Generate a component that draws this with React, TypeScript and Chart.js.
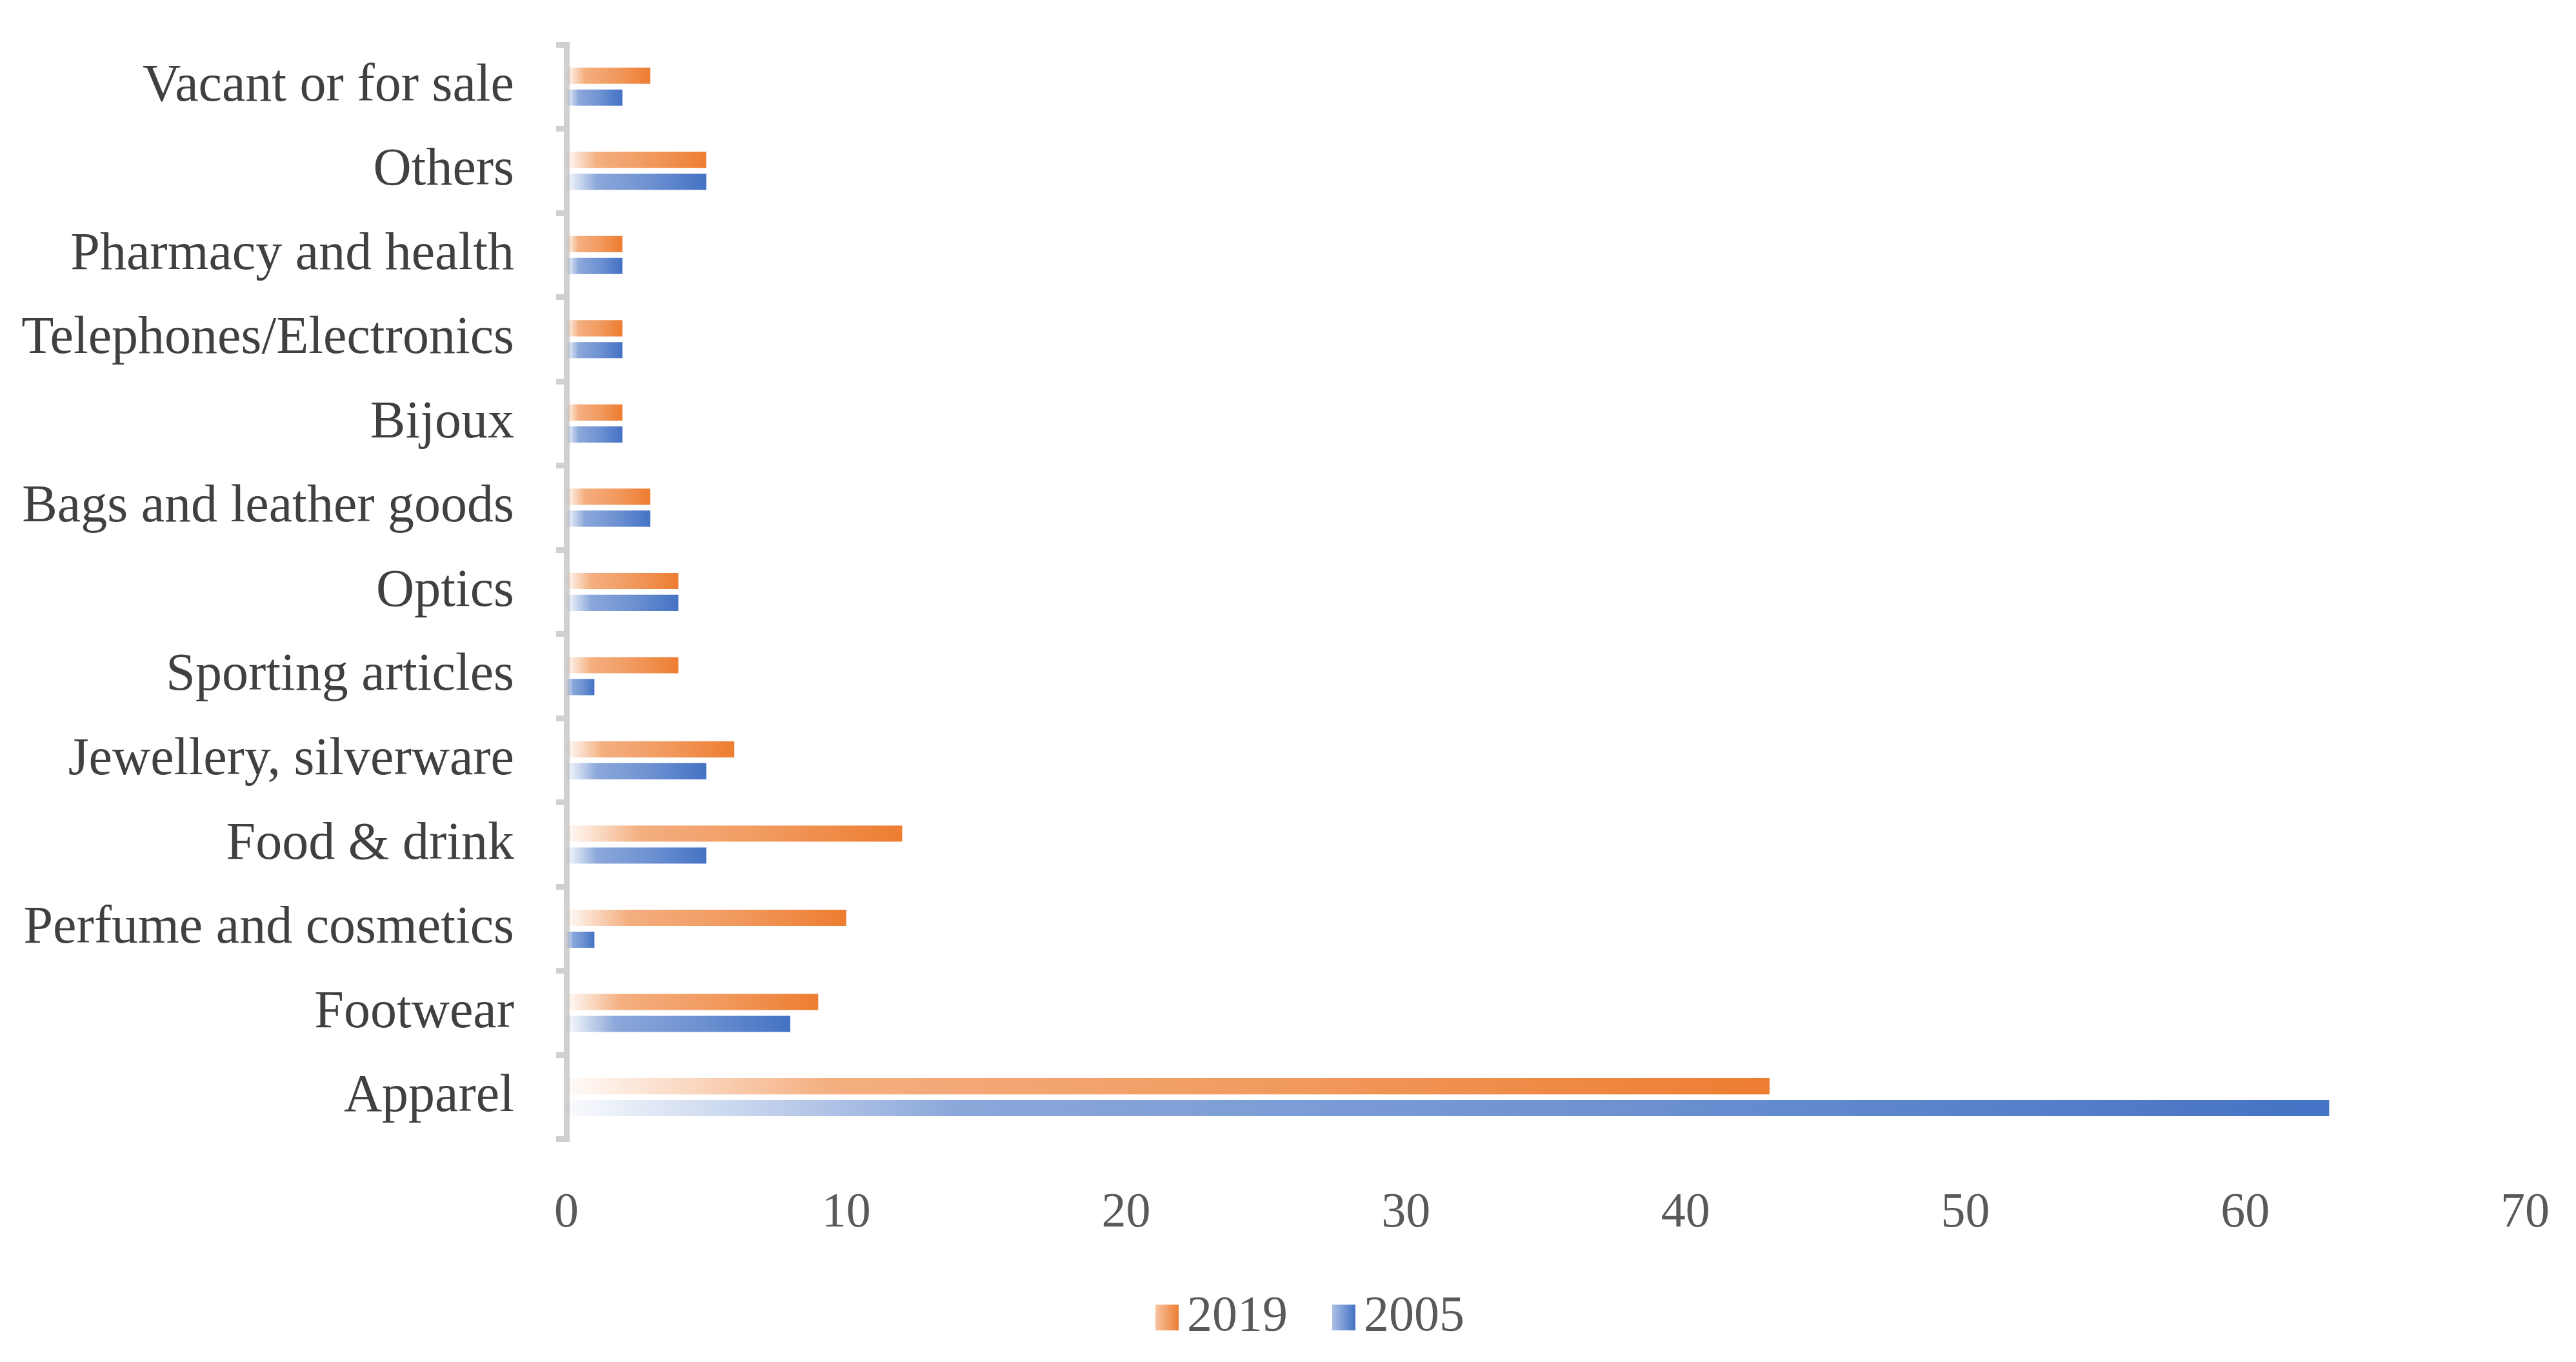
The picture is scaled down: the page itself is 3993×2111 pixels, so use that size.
import { useEffect, useRef } from 'react'
import Chart from 'chart.js/auto'

const CATEGORIES = [
  'Vacant or for sale', 'Others', 'Pharmacy and health', 'Telephones/Electronics',
  'Bijoux', 'Bags and leather goods', 'Optics', 'Sporting articles',
  'Jewellery, silverware', 'Food & drink', 'Perfume and cosmetics', 'Footwear', 'Apparel',
]
const SERIES_2019 = [3, 5, 2, 2, 2, 3, 4, 4, 6, 12, 10, 9, 43]
const SERIES_2005 = [2, 5, 2, 2, 2, 3, 4, 1, 5, 5, 1, 8, 63]
const SERIES_NAMES = ['2019', '2005']
const X_MIN = 0
const X_MAX = 70
const X_STEP = 10

const ORANGE = '237,125,49'
const BLUE = '68,114,196'
const FONT = 'Liberation Serif'

function addStops(g: CanvasGradient, rgb: string) {
  g.addColorStop(0, `rgba(${rgb},0.03)`)
  g.addColorStop(0.22, `rgba(${rgb},0.62)`)
  g.addColorStop(0.6, `rgba(${rgb},0.78)`)
  g.addColorStop(1, `rgba(${rgb},1)`)
}

// horizontal gradient along each bar, pale at zero, full colour at the end
function barFill(rgb: string) {
  return (c: any) => {
    const chart = c.chart
    if (!chart.chartArea || c.type !== 'data') return `rgb(${rgb})`
    const x = chart.scales.x
    const x0 = x.getPixelForValue(0)
    const x1 = x.getPixelForValue(c.raw)
    if (x1 - x0 < 1) return `rgb(${rgb})`
    const g = chart.ctx.createLinearGradient(x0, 0, x1, 0)
    addStops(g, rgb)
    return g
  }
}

// legend swatch: the image is centred on the point-style box, so the coloured
// square sits in its right part to land close to the text
const PS_W = 73
const SW_W = PS_W + 52, SW_H = 40, SQ = 36
function legendSwatch(rgb: string) {
  const cv = document.createElement('canvas')
  cv.width = SW_W; cv.height = SW_H
  const cx = cv.getContext('2d')!
  const g = cx.createLinearGradient(SW_W - SQ, 0, SW_W, 0)
  g.addColorStop(0, `rgba(${rgb},0.45)`)
  g.addColorStop(1, `rgba(${rgb},1)`)
  cx.fillStyle = g
  cx.fillRect(SW_W - SQ, 0, SQ, SW_H)
  return cv
}

// the legend sits a little right of the canvas centre in the original
const legendShift = {
  id: 'legendShift',
  afterLayout(chart: any) {
    if (!chart.legend) return
    chart.legend.left += 38
    chart.legend.right += 38
  },
}

export default function App() {
  const ref = useRef<HTMLCanvasElement>(null)
  const chart = useRef<Chart | null>(null)

  useEffect(() => {
    if (!ref.current) return
    chart.current?.destroy()
    const swatches = [legendSwatch(ORANGE), legendSwatch(BLUE)]

    chart.current = new Chart(ref.current, {
      type: 'bar',
      data: {
        labels: CATEGORIES,
        datasets: [
          { label: SERIES_NAMES[0], data: SERIES_2019, backgroundColor: barFill(ORANGE), categoryPercentage: 0.52, barPercentage: 0.74 },
          { label: SERIES_NAMES[1], data: SERIES_2005, backgroundColor: barFill(BLUE), categoryPercentage: 0.52, barPercentage: 0.74 },
        ],
      },
      plugins: [legendShift],
      options: {
        indexAxis: 'y',
        responsive: true, maintainAspectRatio: false,
        animation: false,
        layout: { padding: { top: 61, right: 71, bottom: 12, left: 0 } },
        plugins: {
          tooltip: { enabled: false },
          legend: {
            position: 'bottom',
            labels: {
              color: '#595959',
              font: { family: FONT, size: 78 },
              usePointStyle: true,
              pointStyleWidth: PS_W,
              boxWidth: 36, boxHeight: 40,
              padding: 6,
              generateLabels: () => SERIES_NAMES.map((name, i) => ({
                text: name, pointStyle: swatches[i] as any, datasetIndex: i,
                fillStyle: 'transparent', strokeStyle: 'transparent', lineWidth: 0, fontColor: '#595959',
              })),
            },
          },
        },
        scales: {
          x: {
            min: X_MIN, max: X_MAX,
            grid: { display: false, drawTicks: false },
            border: { display: false },
            ticks: { stepSize: X_STEP, color: '#595959', font: { family: FONT, size: 76 }, padding: 70 },
            afterFit: (s: any) => { s.paddingLeft = 0; s.paddingRight = 0 },
          },
          y: {
            grid: { drawOnChartArea: false, drawTicks: true, tickLength: 16, color: '#d0d0d0', lineWidth: 9, offset: true },
            border: { display: true, color: '#d0d0d0', width: 9 },
            ticks: { color: '#404040', font: { family: FONT, size: 82 }, padding: 65 },
            afterFit: (s: any) => { s.width = 870; s.paddingTop = 0; s.paddingBottom = 0 },
          },
        },
      } as any,
    })
    return () => chart.current?.destroy()
  }, [])

  return <div style={{ height: 2095 }}><canvas ref={ref} /></div>
}
